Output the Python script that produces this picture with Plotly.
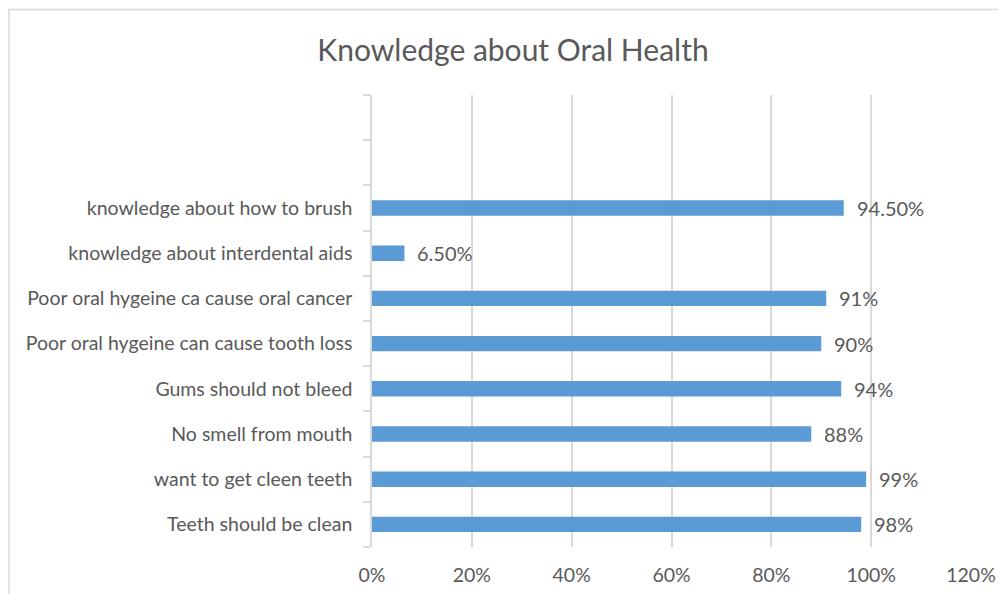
import plotly.graph_objects as go

categories = [
    "Teeth should be clean",
    "want to get cleen teeth",
    "No smell from mouth",
    "Gums should not bleed",
    "Poor oral hygeine can cause tooth loss",
    "Poor oral hygeine ca cause oral cancer",
    "knowledge about interdental aids",
    "knowledge about how to brush",
]
values = [98, 99, 88, 94, 90, 91, 6.5, 94.5]
value_labels = ["98%", "99%", "88%", "94%", "90%", "91%", "6.50%", "94.50%"]
empty_slots = [" ", "  "]
x_ticks = [0, 20, 40, 60, 80, 100, 120]
x_tick_labels = ["0%", "20%", "40%", "60%", "80%", "100%", "120%"]

FONT = "Lato"
TXT = "#595959"
GRID = "#d9d9d9"

fig = go.Figure()
fig.add_trace(go.Bar(
    x=values, y=categories, orientation="h",
    marker=dict(color="#5b9bd5", line=dict(width=0)),
    hoverinfo="skip",
))

for v, c, lab in zip(values, categories, value_labels):
    fig.add_annotation(x=v, y=c, text=lab, showarrow=False, xanchor="left",
                       xshift=11, font=dict(family=FONT, size=20, color=TXT))

# outer chart border
fig.add_shape(type="rect", xref="paper", yref="paper",
              x0=-0.6060, x1=1.2, y0=-0.2, y1=1.189,
              line=dict(color=GRID, width=1.5), fillcolor="rgba(0,0,0,0)", layer="below")

fig.update_layout(
    width=998, height=586,
    margin=dict(l=364, r=35, t=87, b=47, autoexpand=False),
    paper_bgcolor="white", plot_bgcolor="white",
    bargap=0.66,
    showlegend=False,
    font=dict(family=FONT, size=19.5, color=TXT),
    title=dict(text="Knowledge about Oral Health", x=0.506, xref="container",
               xanchor="center", y=0.928, yref="container", yanchor="middle",
               font=dict(family=FONT, size=30, color=TXT)),
    xaxis=dict(range=[0, 120], tickvals=x_ticks, ticktext=x_tick_labels,
               showgrid=True, gridcolor=GRID, gridwidth=1.5,
               zeroline=False, showline=False, ticks="",
               ticklabelstandoff=14, automargin=False, fixedrange=True),
    yaxis=dict(type="category", categoryorder="array",
               categoryarray=categories + empty_slots,
               range=[-0.5, 9.5],
               showline=True, linecolor=GRID, linewidth=1.5,
               ticks="outside", tickson="boundaries", ticklen=7,
               tickcolor=GRID, tickwidth=1.5,
               showgrid=False, ticklabelstandoff=14, automargin=False,
               fixedrange=True),
)

fig.write_html("out.html")
